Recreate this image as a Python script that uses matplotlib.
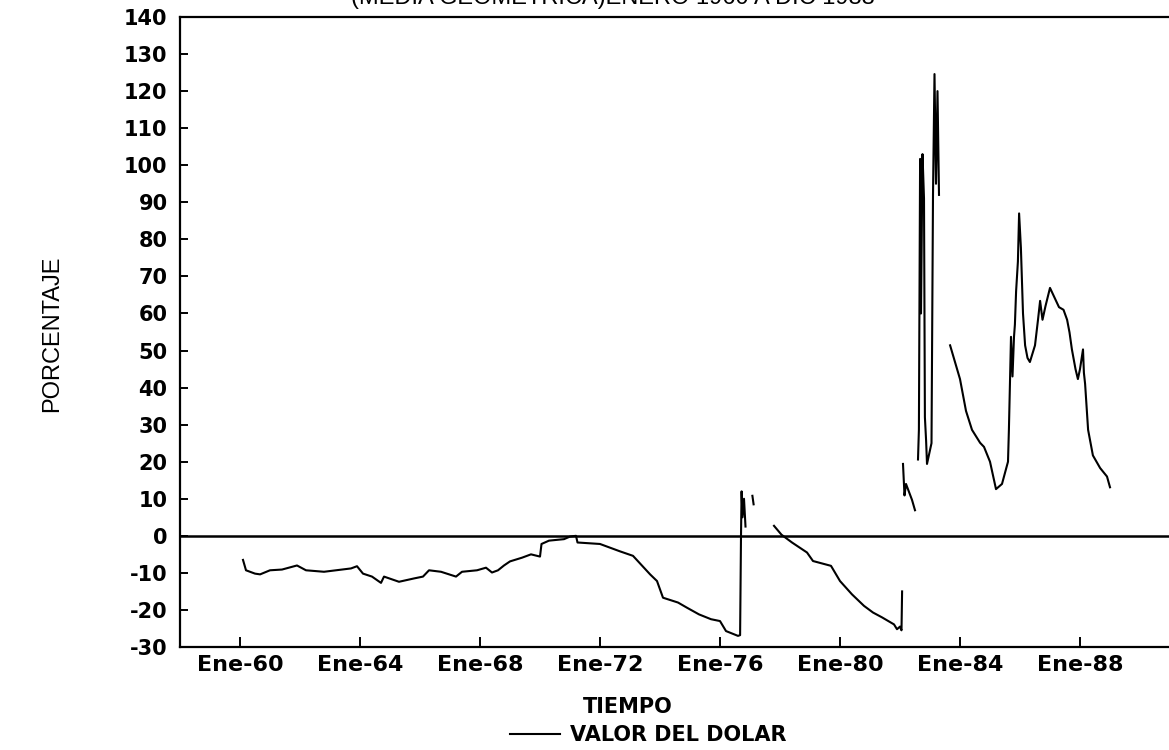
import numpy as np
import matplotlib
matplotlib.use("Agg")
import matplotlib.pyplot as plt

# Valor del dolar, % (media geometrica), ene-1960 a dic-1988.
# None marca los huecos que se ven en el trazo original.
YEARS = [
    1960.10, 1960.20, 1960.50, 1960.67, 1961.00, 1961.40, 1961.90, 1962.20,
    1962.80, 1963.20, 1963.70, 1963.90, 1964.10, 1964.40, 1964.70, 1964.80,
    1965.30, 1965.80, 1966.10, 1966.30, 1966.70, 1967.20, 1967.40, 1967.90,
    1968.20, 1968.40, 1968.60, 1968.80, 1969.00, 1969.40, 1969.70, 1970.00,
    1970.05, 1970.30, 1970.80, 1971.00, 1971.20, 1971.25, 1972.00, 1972.67,
    1973.10, 1973.67, 1973.90, 1974.10, 1974.60, 1974.90, 1975.30, 1975.70,
    1976.00, 1976.20, 1976.60, 1976.67, 1976.70, 1976.72, 1976.75, 1976.80,
    1976.85, None,
    1977.08, 1977.12, None,
    1977.80, 1978.05, 1978.40, 1978.90, 1979.10, 1979.70, 1980.00, 1980.40,
    1980.80, 1981.10, 1981.40, 1981.80, 1981.90, 1982.00, 1982.05, 1982.07,
    None,
    1982.10, 1982.15, 1982.20, 1982.40, 1982.50, None,
    1982.60, 1982.63, 1982.67, 1982.70, 1982.75, 1982.80, 1982.83, 1982.87,
    1982.90, 1983.05, 1983.10, 1983.15, 1983.20, 1983.25, 1983.30, None,
    1983.67, 1984.00, 1984.20, 1984.40, 1984.67, 1984.80, 1985.00, 1985.20,
    1985.40, 1985.60, 1985.63, 1985.70, 1985.75, 1985.80, 1985.83, 1985.87,
    1985.93, 1985.97, 1986.03, 1986.10, 1986.17, 1986.25, 1986.33, 1986.50,
    1986.60, 1986.67, 1986.75, 1986.85, 1987.00, 1987.30, 1987.45, 1987.57,
    1987.65, 1987.73, 1987.85, 1987.93, 1988.00, 1988.10, 1988.13, 1988.17,
    1988.27, 1988.43, 1988.67, 1988.90, 1989.00,
]
VALUES = [
    -6.5, -9.3, -10.2, -10.4, -9.3, -9.1, -8.0, -9.3,
    -9.7, -9.3, -8.8, -8.2, -10.2, -11.0, -12.7, -11.0,
    -12.4, -11.5, -11.0, -9.3, -9.7, -11.0, -9.7, -9.3,
    -8.6, -9.9, -9.3, -8.0, -6.9, -5.9, -5.0, -5.6,
    -2.2, -1.3, -0.9, -0.2, 0.0, -1.8, -2.2, -4.2,
    -5.4, -10.4, -12.2, -16.7, -18.0, -19.4, -21.2, -22.5,
    -23.0, -25.7, -27.0, -26.8, 0.0, 12.0, 5.0, 10.0,
    2.5, None,
    10.8, 8.5, None,
    2.7, 0.3, -1.8, -4.5, -6.8, -8.1, -12.2, -15.8,
    -18.9, -20.7, -22.0, -23.9, -25.2, -24.5, -25.5, -15.0,
    None,
    19.4, 10.9, 14.0, 9.7, 6.9, None,
    20.6, 28.6, 101.7, 60.0, 103.0, 91.0, 32.0, 25.7,
    19.4, 25.0, 92.0, 124.6, 95.0, 120.0, 92.0, None,
    51.4, 42.3, 33.7, 28.6, 25.1, 24.0, 20.0, 12.6,
    14.0, 20.0, 28.6, 53.7, 43.0, 53.7, 57.0, 66.0,
    74.0, 87.0, 77.7, 60.0, 51.4, 48.0, 46.9, 51.4,
    58.3, 63.4, 58.3, 62.0, 66.9, 61.7, 61.0, 58.3,
    54.9, 50.3, 45.0, 42.3, 45.0, 50.3, 44.0, 41.0,
    28.6, 21.7, 18.3, 16.0, 13.1,
]

X_TICKS = [1960, 1964, 1968, 1972, 1976, 1980, 1984, 1988]
X_LABELS = ["Ene-60", "Ene-64", "Ene-68", "Ene-72", "Ene-76", "Ene-80", "Ene-84", "Ene-88"]
Y_TICKS = list(range(-30, 141, 10))

plt.rcParams["axes.unicode_minus"] = False

x = np.array([np.nan if v is None else v for v in YEARS], dtype=float)
y = np.array([np.nan if v is None else v for v in VALUES], dtype=float)

fig = plt.figure(figsize=(11.69, 7.5), dpi=100)
ax = fig.add_axes([180 / 1169, 1 - 647 / 750, 989 / 1169, 630 / 750])

ax.plot(x, y, color="black", linewidth=1.5, label="VALOR DEL DOLAR")
ax.axhline(0, color="black", linewidth=1.8)

ax.set_xlim(1958, 1958 + 989 / 30)
ax.set_ylim(-30, 140)
ax.set_xticks(X_TICKS)
ax.set_xticklabels(X_LABELS)
ax.set_yticks(Y_TICKS)

for side in ["left", "bottom", "top"]:
    ax.spines[side].set_linewidth(1.6)
ax.spines["right"].set_visible(False)

ax.tick_params(axis="y", direction="in", length=6, width=1.4, pad=9)
ax.tick_params(axis="x", direction="in", length=7, width=1.4, pad=6)
for lbl in ax.get_yticklabels():
    lbl.set_fontfamily("DejaVu Sans")
    lbl.set_fontweight("bold")
    lbl.set_fontsize(15)
for lbl in ax.get_xticklabels():
    lbl.set_fontfamily("DejaVu Sans")
    lbl.set_fontweight("bold")
    lbl.set_fontsize(16)

fig.text(0.0445, 0.555, "PORCENTAJE", rotation=90, ha="center", va="center",
         family="Liberation Sans", fontsize=17)
fig.text(628 / 1169, 1 - 707 / 750, "TIEMPO", ha="center", va="center",
         family="DejaVu Sans", fontweight="bold", fontsize=15)
fig.text(613 / 1169, 1 - 9 / 750, "(MEDIA GEOMETRICA)ENERO 1960 A DIC 1988",
         ha="center", va="bottom", family="Liberation Sans", fontsize=17)

fig.legend(loc="center", bbox_to_anchor=(648 / 1169, 1 - 735 / 750), frameon=False,
           handlelength=2.4, handletextpad=0.5, borderpad=0,
           prop={"family": "DejaVu Sans", "weight": "bold", "size": 15})

fig.savefig("out.png", dpi=100)
